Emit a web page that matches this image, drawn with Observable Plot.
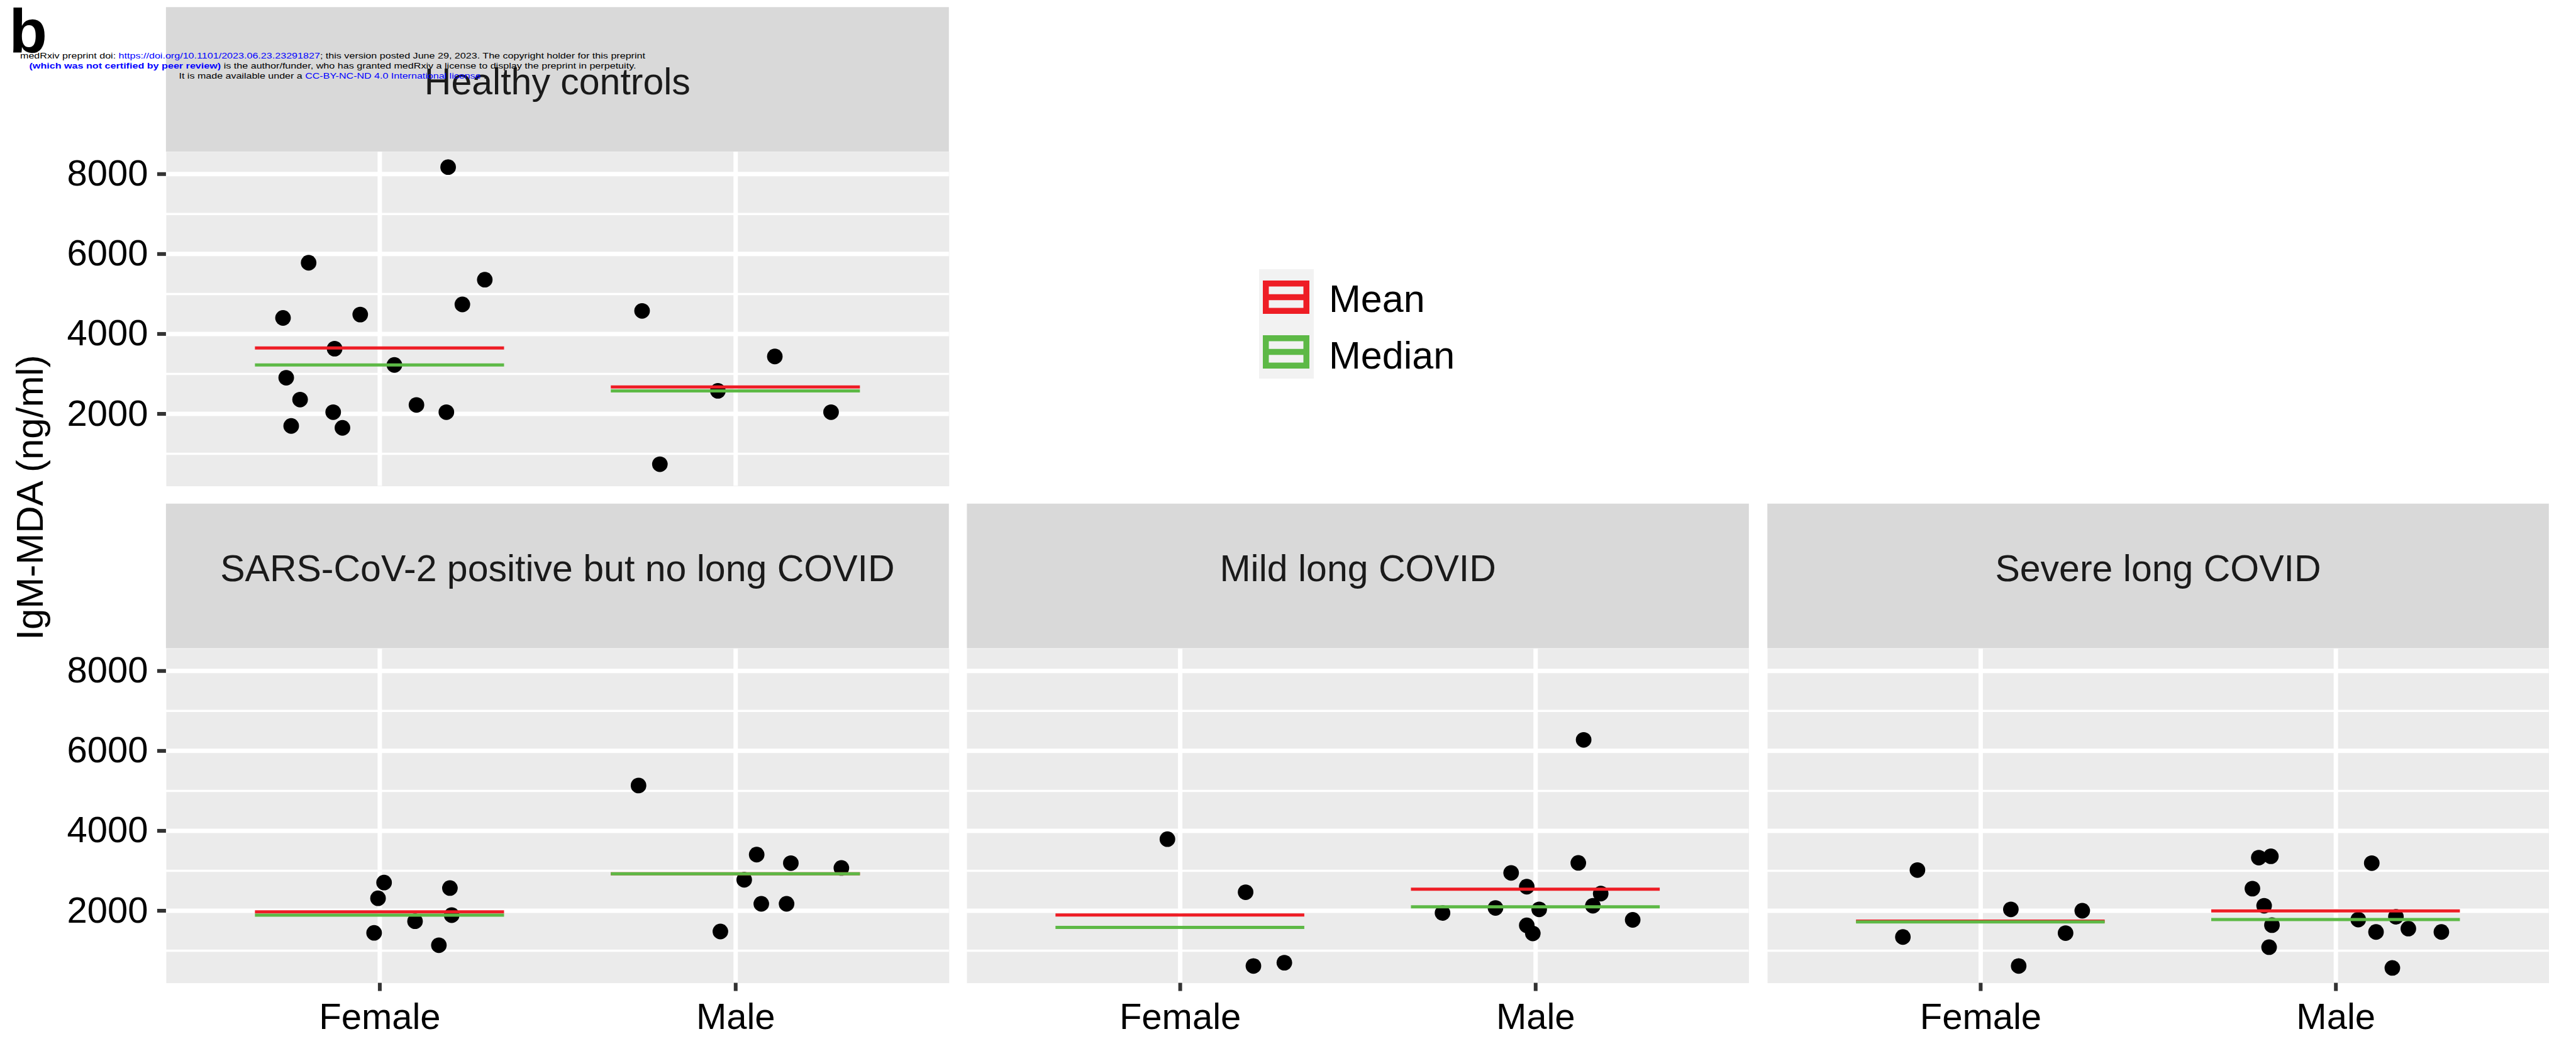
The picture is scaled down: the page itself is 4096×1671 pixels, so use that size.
<!DOCTYPE html>
<html>
<head>
<meta charset="utf-8">
<script src="https://cdn.jsdelivr.net/npm/d3@7"></script>
<script src="https://cdn.jsdelivr.net/npm/@observablehq/plot@0.6"></script>
<style>
  html, body { margin: 0; padding: 0; background: #fff; }
  #fig { position: relative; width: 4096px; height: 1671px; overflow: hidden;
         font-family: "Liberation Sans", Arial, sans-serif; color: #000; }
  #fig > svg { position: absolute; }
</style>
</head>
<body>
<div id="fig"></div>
<script>
// Facet groups and the two sexes on each x axis
const groups = ["Healthy controls", "SARS-CoV-2 positive but no long COVID", "Mild long COVID", "Severe long COVID"];
const sexes = ["Female", "Male"];
const yBreaks = [2000, 4000, 6000, 8000];
const yMinor = [1000, 3000, 5000, 7000];

// IgM-MDA (ng/ml) per participant, and the horizontal jitter of each dot (in category units)
const healthyFemale = [8175, 5781, 5357, 4739, 4485, 4400, 3631, 3224, 2904, 2357, 2224, 2043, 2043, 1697, 1650];
const healthyFemaleJitter = [0.192, -0.200, 0.295, 0.232, -0.055, -0.272, -0.127, 0.041, -0.263, -0.224, 0.103, -0.131, 0.187, -0.249, -0.105];
const healthyMale = [4576, 3436, 2576, 2043, 740];
const healthyMaleJitter = [-0.263, 0.110, -0.050, 0.268, -0.213];

const sarsFemale = [2705, 2568, 2312, 1890, 1738, 1447, 1137];
const sarsFemaleJitter = [0.012, 0.197, -0.005, 0.202, 0.099, -0.016, 0.166];
const sarsMale = [5134, 3405, 3191, 3072, 2775, 2173, 2173, 1481];
const sarsMaleJitter = [-0.273, 0.059, 0.155, 0.297, 0.024, 0.072, 0.143, -0.043];

const mildFemale = [3792, 2464, 700, 618];
const mildFemaleJitter = [-0.036, 0.184, 0.293, 0.206];
const mildMale = [6276, 3197, 2948, 2602, 2429, 2125, 2070, 2034, 1944, 1772, 1634, 1433];
const mildMaleJitter = [0.135, 0.120, -0.069, -0.025, 0.183, 0.161, -0.113, 0.010, -0.262, 0.273, -0.025, -0.008];

const severeFemale = [3018, 2034, 2000, 1440, 1343, 618];
const severeFemaleJitter = [-0.178, 0.085, 0.286, 0.239, -0.219, 0.107];
const severeMale = [3329, 3363, 3191, 2553, 2125, 1779, 1849, 1640, 1552, 1469, 1469, 1088, 569];
const severeMaleJitter = [-0.217, -0.183, 0.101, -0.235, -0.202, 0.063, 0.169, -0.180, 0.204, 0.113, 0.297, -0.188, 0.159];

const series = [
  [groups[0], "Female", healthyFemale, healthyFemaleJitter],
  [groups[0], "Male", healthyMale, healthyMaleJitter],
  [groups[1], "Female", sarsFemale, sarsFemaleJitter],
  [groups[1], "Male", sarsMale, sarsMaleJitter],
  [groups[2], "Female", mildFemale, mildFemaleJitter],
  [groups[2], "Male", mildMale, mildMaleJitter],
  [groups[3], "Female", severeFemale, severeFemaleJitter],
  [groups[3], "Male", severeMale, severeMaleJitter]
];

// Long table of points and per-group summaries (mean, median)
const points = series.flatMap(([group, sex, vals, jit]) =>
  vals.map((value, i) => ({group, sex, xi: sexes.indexOf(sex) + 1, value, jitter: jit[i]})));
const summary = series.map(([group, sex, vals]) =>
  ({group, sex, xi: sexes.indexOf(sex) + 1, mean: d3.mean(vals), median: d3.median(vals)}));

// Shared y domain with a 5% expansion on both ends
const [vMin, vMax] = d3.extent(points, d => d.value);
const pad = 0.05 * (vMax - vMin);
const yDomain = [vMin - pad, vMax + pad];

const RED = "#EE1D25", GREEN = "#5DB946";
const FONT = "'Liberation Sans', Arial, sans-serif";

// Panel geometry
const colX = [[263.9, 1508.8], [1537.4, 2780.8], [2810.2, 4052.8]];
const rowY = [[241.3, 772.9], [1030.7, 1562.3]];
const stripTop = [11.3, 800.7];
const stripBaseline = [150, 924];
const panels = [
  {group: groups[0], col: 0, row: 0},
  {group: groups[1], col: 0, row: 1},
  {group: groups[2], col: 1, row: 1},
  {group: groups[3], col: 2, row: 1}
];

const fig = document.getElementById("fig");

// Decorations: strips, axis title, legend, panel tag and preprint header
const deco = d3.create("svg")
  .attr("width", 4096).attr("height", 1671)
  .style("left", "0px").style("top", "0px")
  .style("font-family", FONT);

for (const p of panels) {
  const [x0, x1] = colX[p.col];
  deco.append("rect")
    .attr("x", x0).attr("y", stripTop[p.row])
    .attr("width", x1 - x0).attr("height", rowY[p.row][0] - stripTop[p.row])
    .attr("fill", "#D9D9D9");
  deco.append("text")
    .attr("x", (x0 + x1) / 2).attr("y", stripBaseline[p.row])
    .attr("text-anchor", "middle").attr("font-size", 59).attr("fill", "#1A1A1A")
    .text(p.group);
}

deco.append("text")
  .attr("transform", "translate(68,791) rotate(-90)")
  .attr("text-anchor", "middle").attr("font-size", 60).attr("fill", "#000")
  .text("IgM-MDA (ng/ml)");

// Legend
const legend = deco.append("g");
legend.append("rect").attr("x", 2002).attr("y", 428).attr("width", 87).attr("height", 174).attr("fill", "#F2F2F2");
[["Mean", RED, 446, 496], ["Median", GREEN, 533, 586]].forEach(([label, color, top, base]) => {
  const sw = 9.5;
  legend.append("rect")
    .attr("x", 2008 + sw / 2).attr("y", top + sw / 2)
    .attr("width", 74 - sw).attr("height", 53 - sw)
    .attr("fill", "none").attr("stroke", color).attr("stroke-width", sw);
  legend.append("line")
    .attr("x1", 2008 + sw / 2).attr("x2", 2082 - sw / 2)
    .attr("y1", top + 26.5).attr("y2", top + 26.5)
    .attr("stroke", color).attr("stroke-width", sw);
  legend.append("text")
    .attr("x", 2113).attr("y", base).attr("font-size", 61).attr("fill", "#000")
    .text(label);
});

deco.append("text")
  .attr("x", 14.6).attr("y", 83).attr("font-size", 99).attr("font-weight", "bold")
  .text("b");

// Preprint header lines
const header = [
  {y: 92.7, len: 994, parts: [
    ["medRxiv preprint doi: ", "#000", "normal"],
    ["https://doi.org/10.1101/2023.06.23.23291827", "#0000FF", "normal"],
    ["; this version posted June 29, 2023. The copyright holder for this preprint", "#000", "normal"]]},
  {y: 109.3, len: 965, parts: [
    ["(which was not certified by peer review)", "#0000FF", "bold"],
    [" is the author/funder, who has granted medRxiv a license to display the preprint in perpetuity.", "#000", "normal"]]},
  {y: 125.2, len: 489, parts: [
    ["It is made available under a ", "#000", "normal"],
    ["CC-BY-NC-ND 4.0 International license", "#0000FF", "normal"],
    [" .", "#000", "normal"]]}
];
for (const line of header) {
  const t = deco.append("text")
    .attr("x", 529).attr("y", line.y).attr("text-anchor", "middle")
    .attr("font-size", 13).attr("textLength", line.len).attr("lengthAdjust", "spacingAndGlyphs")
    .style("white-space", "pre");
  for (const [s, c, w] of line.parts) t.append("tspan").attr("fill", c).attr("font-weight", w).text(s);
}

fig.appendChild(deco.node());

// One Plot per facet panel
for (const p of panels) {
  const [x0, x1] = colX[p.col];
  const [y0, y1] = rowY[p.row];
  const showY = p.col === 0;
  const showX = p.row === 1;
  const marginLeft = showY ? x0 : 0;
  const marginBottom = showX ? 110 : 0;

  const pts = points.filter(d => d.group === p.group);
  const stats = summary.filter(d => d.group === p.group);

  const marks = [
    Plot.frame({fill: "#EBEBEB", stroke: "none"}),
    Plot.ruleY(yMinor, {stroke: "#FFFFFF", strokeWidth: 3.5}),
    Plot.ruleY(yBreaks, {stroke: "#FFFFFF", strokeWidth: 7}),
    Plot.ruleX([1, 2], {stroke: "#FFFFFF", strokeWidth: 7}),
    Plot.dot(pts, {x: d => d.xi + d.jitter, y: "value", r: 12.4, fill: "#000", stroke: "none"}),
    Plot.ruleY(stats, {y: "mean", x1: d => d.xi - 0.35, x2: d => d.xi + 0.35, stroke: RED, strokeWidth: 5}),
    Plot.ruleY(stats, {y: "median", x1: d => d.xi - 0.35, x2: d => d.xi + 0.35, stroke: GREEN, strokeWidth: 5})
  ];
  if (showY) marks.push(Plot.axisY(yBreaks, {
    tickSize: 14, tickPadding: 15, fontSize: 58, stroke: "#333333", strokeWidth: 6,
    tickFormat: d => String(d), label: null
  }));
  if (showX) marks.push(Plot.axisX([1, 2], {
    tickSize: 13, tickPadding: 19, fontSize: 58, stroke: "#333333", strokeWidth: 6,
    tickFormat: d => sexes[d - 1], label: null
  }));

  const chart = Plot.plot({
    width: marginLeft + (x1 - x0),
    height: (y1 - y0) + marginBottom,
    marginLeft, marginRight: 0, marginTop: 0, marginBottom,
    x: {type: "linear", domain: [0.4, 2.6], ...(showX ? {} : {axis: null})},
    y: {domain: yDomain, ...(showY ? {} : {axis: null})},
    style: {background: "transparent", fontFamily: FONT, color: "#000", overflow: "visible"},
    marks
  });
  chart.style.left = (x0 - marginLeft) + "px";
  chart.style.top = y0 + "px";
  chart.style.position = "absolute";
  chart.style.maxWidth = "none";
  fig.appendChild(chart);
}
</script>
</body>
</html>
